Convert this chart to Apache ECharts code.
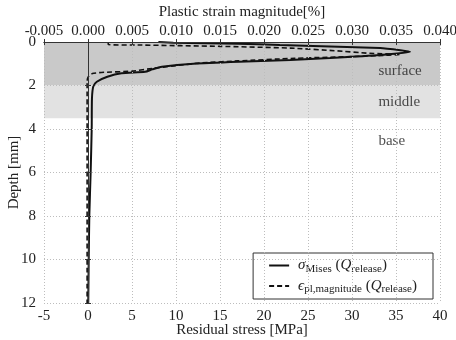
<!DOCTYPE html>
<html>
<head>
<meta charset="utf-8">
<script src="https://cdn.jsdelivr.net/npm/echarts@6/dist/echarts.min.js"></script>
<style>html,body{margin:0;padding:0;background:#fff;}#c{width:456px;height:340px;}</style>
</head>
<body>
<div id="c"></div>
<script>
// Depth [mm] and von Mises residual stress [MPa]
var misesDepth = [0, 0.03, 0.08, 0.14, 0.28, 0.38, 0.45, 0.6, 0.74, 0.83, 0.9, 1.0, 1.14, 1.26, 1.37, 1.44, 1.6, 1.83, 2.05, 2.6, 4, 6, 8, 10, 12];
var misesStress = [8, 9.7, 17, 21.8, 33.2, 35.5, 36.6, 33.2, 27.5, 23, 18, 12, 8.4, 7.3, 6.5, 3.8, 2.2, 1.0, 0.6, 0.45, 0.42, 0.3, 0.15, 0.08, 0.03];
// Depth [mm] and plastic strain magnitude [%]
var strainDepth = [0, 0.12, 0.14, 0.2, 0.28, 0.4, 0.52, 0.57, 0.63, 0.75, 0.87, 0.97, 1.1, 1.21, 1.34, 1.4, 1.45, 1.55, 1.8, 12];
var strainValue = [0.0023, 0.0023, 0.006, 0.015, 0.023, 0.028, 0.032, 0.0355, 0.033, 0.0235, 0.017, 0.0127, 0.0097, 0.0074, 0.005, 0.0015, 0.0005, 0.0001, -0.0001, -0.0001];
// Depth zones
var zoneNames = ['surface', 'middle', 'base'];
var zoneStart = [0, 2, 3.5];
var zoneEnd = [2, 3.5, 12];
var zoneLabelDepth = [1.33, 2.76, 4.55];
var zoneLabelStress = [33, 33, 33];
// Axis ranges
var stressMin = -5, stressMax = 40, stressStep = 5;
var strainMin = -0.005, strainMax = 0.040, strainStep = 0.005;
var depthMin = 0, depthMax = 12, depthStep = 2;

var FONT = 'Liberation Serif';
var FS = 15;
var misesData = misesDepth.map(function (d, i) { return [misesStress[i], d]; });
var strainData = strainDepth.map(function (d, i) { return [strainValue[i], d]; });
var zoneLabelData = zoneNames.map(function (n, i) { return { name: n, value: [zoneLabelStress[i], zoneLabelDepth[i]] }; });
var zoneColors = ['#c9c9c9', '#e2e2e2'];
var areas = [];
for (var k = 0; k < 2; k++) {
  areas.push([{ yAxis: zoneStart[k], itemStyle: { color: zoneColors[k] } }, { yAxis: zoneEnd[k] }]);
}

var gridLine = { show: true, lineStyle: { color: '#bdbdbd', type: [1, 2], width: 1 } };
var axisLineStyle = { show: true, lineStyle: { color: '#333', width: 1 } };
var labelStyle = { fontFamily: FONT, fontSize: FS, color: '#222' };
var tickStyle = { show: true, inside: true, length: 3, lineStyle: { color: '#333' } };
var nameStyle = { fontFamily: FONT, fontSize: FS, color: '#222' };

var chart = echarts.init(document.getElementById('c'));
chart.setOption({
  backgroundColor: '#fff',
  animation: false,
  grid: { left: 44, right: 16, top: 42, bottom: 37, containLabel: false, outerBoundsMode: 'none' },
  xAxis: [{
    type: 'value', position: 'bottom', min: stressMin, max: stressMax, interval: stressStep, z: 10,
    name: 'Residual stress [MPa]', nameLocation: 'middle', nameGap: 20, nameMoveOverlap: false,
    nameTextStyle: nameStyle,
    axisLine: axisLineStyle, axisTick: tickStyle,
    axisLabel: Object.assign({ margin: 6, formatter: function (v) { return String(Math.round(v)); } }, labelStyle),
    splitLine: gridLine
  }, {
    type: 'value', position: 'top', min: strainMin, max: strainMax, interval: strainStep, z: 10,
    name: 'Plastic strain magnitude[%]', nameLocation: 'middle', nameGap: 22, nameMoveOverlap: false,
    nameTextStyle: nameStyle,
    axisLine: axisLineStyle, axisTick: tickStyle,
    axisLabel: Object.assign({ margin: 3, formatter: function (v) { return v.toFixed(3); } }, labelStyle),
    splitLine: { show: false }
  }],
  yAxis: [{
    type: 'value', inverse: true, min: depthMin, max: depthMax, interval: depthStep, z: 10,
    name: 'Depth [mm]', nameLocation: 'middle', nameGap: 22, nameMoveOverlap: false,
    nameTextStyle: nameStyle,
    axisLine: axisLineStyle, axisTick: tickStyle,
    axisLabel: Object.assign({ margin: 8 }, labelStyle),
    splitLine: gridLine
  }, {
    type: 'value', inverse: true, position: 'right', min: depthMin, max: depthMax, interval: depthStep, z: 10,
    axisLine: axisLineStyle, axisTick: tickStyle,
    axisLabel: { show: false }, splitLine: { show: false }
  }],
  legend: {
    orient: 'vertical', right: 23, bottom: 41,
    backgroundColor: '#fff', borderColor: '#333', borderWidth: 1, borderRadius: 0,
    padding: [5, 16, 4, 15], itemGap: 4, itemWidth: 20, itemHeight: 10,
    itemStyle: { color: 'rgba(0,0,0,0)', borderColor: 'rgba(0,0,0,0)', borderWidth: 0, opacity: 0 },
    data: ['mises', 'strain'],
    formatter: function (n) {
      if (n === 'mises') return '{i|σ}{s|Mises} {n|(}{i|Q}{s|release}{n|)}';
      return '{i|ϵ}{s|pl,magnitude} {n|(}{i|Q}{s|release}{n|)}';
    },
    textStyle: {
      fontFamily: FONT, fontSize: FS, color: '#222', padding: [0, 0, 0, 4],
      rich: {
        i: { fontFamily: FONT, fontStyle: 'italic', fontSize: FS, lineHeight: 18, verticalAlign: 'middle', color: '#222' },
        n: { fontFamily: FONT, fontSize: FS, lineHeight: 18, verticalAlign: 'middle', color: '#222' },
        s: { fontFamily: FONT, fontSize: 11, lineHeight: 18, verticalAlign: 'bottom', color: '#222' }
      }
    }
  },
  series: [{
    name: 'mises', type: 'line', xAxisIndex: 0, yAxisIndex: 0, data: misesData,
    symbol: 'none', smooth: 0.2, lineStyle: { color: '#111', width: 2 }, itemStyle: { color: '#111' },
    markArea: { silent: true, data: areas }, z: 3
  }, {
    name: 'strain', type: 'line', xAxisIndex: 1, yAxisIndex: 0, data: strainData,
    symbol: 'none', smooth: 0.2, lineStyle: { color: '#111', width: 1.6, type: [5, 3] }, itemStyle: { color: '#111' }, z: 4
  }, {
    name: 'zones', type: 'scatter', xAxisIndex: 0, yAxisIndex: 0, data: zoneLabelData,
    symbolSize: 0, silent: true,
    label: { show: true, position: 'right', distance: 0, formatter: '{b}', fontFamily: FONT, fontSize: FS, color: '#222' }
  }]
});
</script>
</body>
</html>
